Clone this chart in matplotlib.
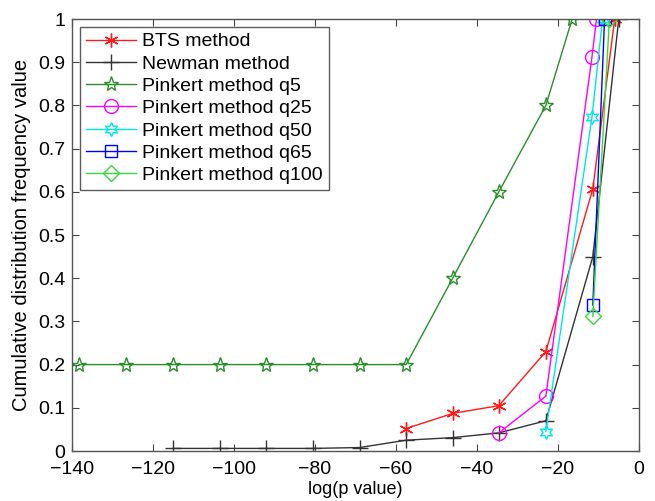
import matplotlib
matplotlib.use("Agg")
import matplotlib.pyplot as plt

plt.rcParams['font.family'] = ['Liberation Sans', 'DejaVu Sans']

# Data
bts_x = [-57.5, -46.0, -34.6, -23.0, -11.4, -6.0]
bts_y = [0.052, 0.087, 0.105, 0.230, 0.607, 1.0]

newman_x = [-115.0, -103.5, -92.0, -80.5, -69.0, -57.5, -46.0, -34.6, -23.0, -11.4, -5.0]
newman_y = [0.006, 0.006, 0.006, 0.006, 0.008, 0.025, 0.031, 0.042, 0.070, 0.450, 1.0]

q5_x = [-138.3, -126.7, -115.0, -103.5, -92.0, -80.5, -69.0, -57.5, -46.0, -34.6, -23.0, -16.5]
q5_y = [0.2, 0.2, 0.2, 0.2, 0.2, 0.2, 0.2, 0.2, 0.4, 0.6, 0.8, 1.0]

q25_x = [-34.6, -23.0, -11.6, -10.5]
q25_y = [0.042, 0.127, 0.913, 1.0]

q50_x = [-23.0, -11.6, -9.0]
q50_y = [0.045, 0.774, 1.0]

q65_x = [-11.4, -8.5]
q65_y = [0.338, 1.0]

q100_x = [-11.4, -7.3]
q100_y = [0.312, 1.0]

labels = ["BTS method", "Newman method", "Pinkert method q5", "Pinkert method q25",
          "Pinkert method q50", "Pinkert method q65", "Pinkert method q100"]
xticks = [-140, -120, -100, -80, -60, -40, -20, 0]
yticks = [0, 0.1, 0.2, 0.3, 0.4, 0.5, 0.6, 0.7, 0.8, 0.9, 1]
ytick_labels = ["0", "0.1", "0.2", "0.3", "0.4", "0.5", "0.6", "0.7", "0.8", "0.9", "1"]

fig = plt.figure(figsize=(6.55, 5.01), dpi=100)
ax = fig.add_axes([72/655, 1-451/501, (639-72)/655, (451-19)/501])

lw = 1.0
ms = 10
ax.plot(bts_x, bts_y, color='#ff1a1a', lw=lw, marker=(6, 2, 0), ms=ms, mew=1.0, label=labels[0])
ax.plot(newman_x, newman_y, color='#333333', lw=lw, marker='+', ms=ms+1, mew=1.0, label=labels[1])
ax.plot(q5_x, q5_y, color='#2a8f2a', lw=lw, marker='*', ms=ms+1, mew=1.0, fillstyle='none', label=labels[2])
ax.plot(q25_x, q25_y, color='#ff00ff', lw=lw, marker='o', ms=ms, mew=1.0, fillstyle='none', label=labels[3])
ax.plot(q50_x, q50_y, color='#00e5ee', lw=lw, marker=(6, 1, 0), ms=ms, mew=1.0, fillstyle='none', label=labels[4])
ax.plot(q65_x, q65_y, color='#0000ff', lw=lw, marker='s', ms=ms-1, mew=1.0, fillstyle='none', label=labels[5])
ax.plot(q100_x, q100_y, color='#33dd33', lw=lw, marker='D', ms=ms-2, mew=1.0, fillstyle='none', label=labels[6])

ax.set_xlim(-140, 0)
ax.set_ylim(0, 1)
ax.set_xticks(xticks)
ax.set_yticks(yticks)
ax.set_yticklabels(ytick_labels)
ax.tick_params(direction='in', top=True, right=True, labelsize=14, length=5, color='#444444', pad=5)
ax.tick_params(axis='x', pad=7)
for s in ax.spines.values():
    s.set_color('#555555')
    s.set_linewidth(1.0)

ax.set_xlabel("log(p value)", fontsize=13, labelpad=2)
ax.set_ylabel("Cumulative distribution frequency value", fontsize=14.5, labelpad=5)

leg = ax.legend(loc='upper left', bbox_to_anchor=(8/567, 1-8/432), borderaxespad=0,
                fontsize=14, handlelength=2.6, frameon=True, fancybox=False,
                edgecolor='#333333', labelspacing=0.24, borderpad=0.3, handletextpad=0.3)
leg.get_frame().set_linewidth(1.0)

fig.savefig("out.png", dpi=100)
